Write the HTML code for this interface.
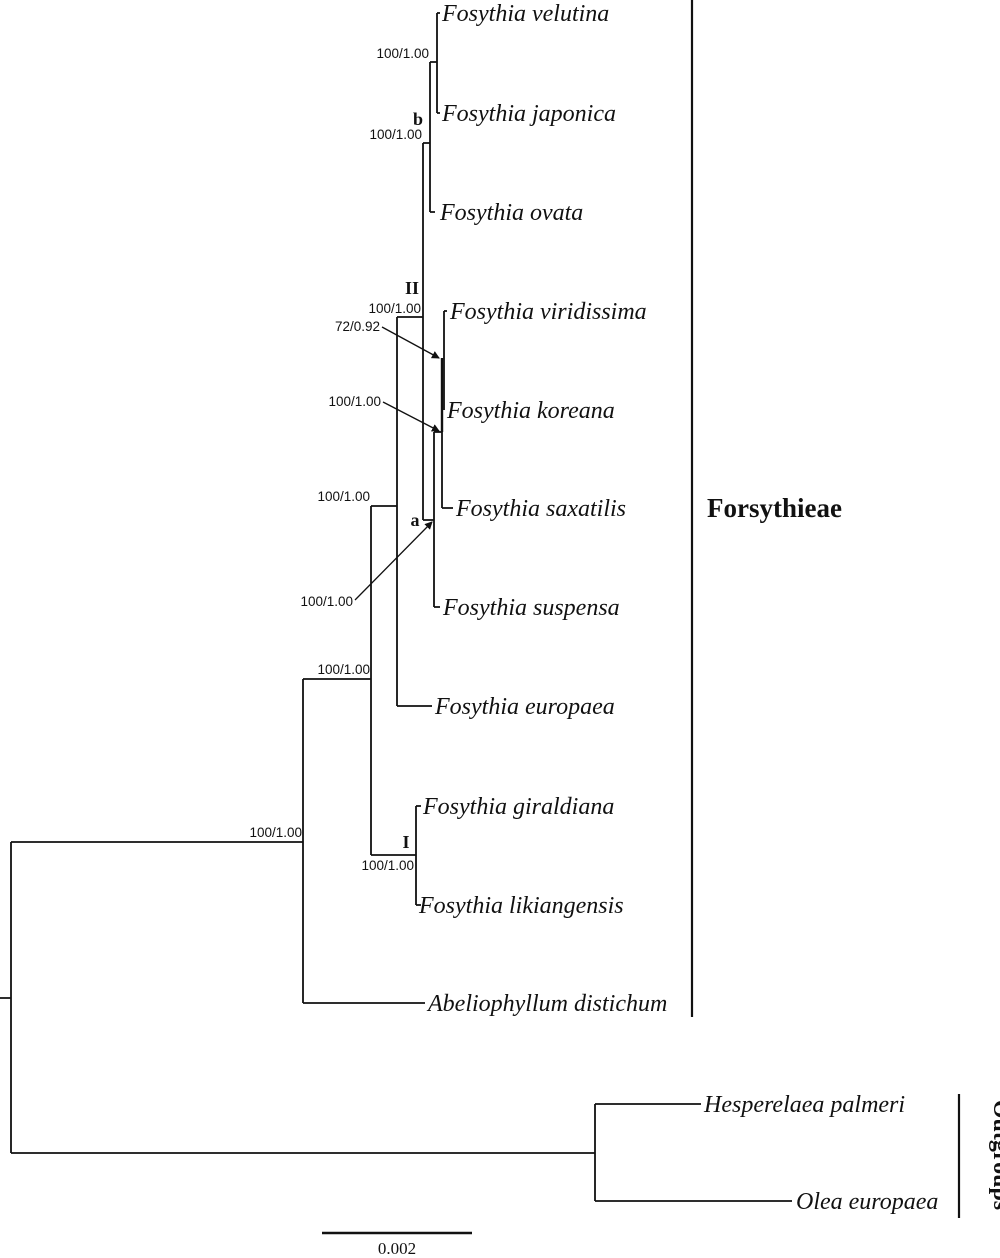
<!DOCTYPE html>
<html><head><meta charset="utf-8"><style>
html,body{margin:0;padding:0;background:#fff;}
svg{display:block;}
.t{font-family:"Liberation Serif",serif;font-style:italic;font-size:24px;fill:#111;}
.n{font-family:"Liberation Sans",sans-serif;font-size:13.5px;fill:#111;}
.b{font-family:"Liberation Serif",serif;font-weight:bold;fill:#111;}
</style></head><body>
<svg width="1000" height="1258" viewBox="0 0 1000 1258" xmlns="http://www.w3.org/2000/svg">
<defs><marker id="ah" markerWidth="8" markerHeight="8" refX="7" refY="4" orient="auto" markerUnits="userSpaceOnUse"><path d="M0,0 L8,4 L0,8 z" fill="#111"/></marker></defs>
<g stroke="#111" stroke-width="1.8" fill="none">
<!-- root -->
<path d="M0,998 H11 M11,842 V1153 M11,842 H303 M11,1153 H595"/>
<!-- outgroups -->
<path d="M595,1104 V1201 M595,1104 H701 M595,1201 H792"/>
<!-- ingroup main -->
<path d="M303,679 V1003 M303,1003 H425 M303,679 H371"/>
<path d="M371,506 V855 M371,855 H416 M416,806 V905 M416,806 H421 M416,905 H421"/>
<path d="M371,506 H397 M397,317 V706 M397,706 H432 M397,317 H423"/>
<path d="M423,143 V520 M423,143 H430 M430,62 V212 M430,212 H435 M430,62 H437 M437,13 V113 M437,13 H440 M437,113 H440"/>
<path d="M423,520 H434 M434,432 V607 M434,607 H440 M434,432 H442 M442,432 V508 M442,508 H453"/>
<path d="M442,358 V432" stroke-width="2.4"/>
<path d="M444,311 V410 M444,311 H447"/>
<!-- arrows -->
<path d="M382,327 L439,358" stroke-width="1.3" marker-end="url(#ah)"/>
<path d="M383,402 L439,431" stroke-width="1.3" marker-end="url(#ah)"/>
<path d="M355,600 L432,522" stroke-width="1.3" marker-end="url(#ah)"/>
<!-- group bars -->
<path d="M692,0 V1017" stroke-width="2.2"/>
<path d="M959,1094 V1218" stroke-width="2.2"/>
<!-- scale -->
<path d="M322,1233 H472" stroke-width="2.4"/>
</g>
<text class="t" x="442" y="21">Fosythia velutina</text>
<text class="t" x="442" y="121">Fosythia japonica</text>
<text class="t" x="440" y="220">Fosythia ovata</text>
<text class="t" x="450" y="319">Fosythia viridissima</text>
<text class="t" x="447" y="418">Fosythia koreana</text>
<text class="t" x="456" y="516">Fosythia saxatilis</text>
<text class="t" x="443" y="615">Fosythia suspensa</text>
<text class="t" x="435" y="714">Fosythia europaea</text>
<text class="t" x="423" y="814">Fosythia giraldiana</text>
<text class="t" x="419" y="913">Fosythia likiangensis</text>
<text class="t" x="428" y="1011">Abeliophyllum distichum</text>
<text class="t" x="704" y="1112">Hesperelaea palmeri</text>
<text class="t" x="796" y="1209">Olea europaea</text>
<text class="n" x="429" y="58" text-anchor="end">100/1.00</text>
<text class="n" x="422" y="139" text-anchor="end">100/1.00</text>
<text class="n" x="421" y="313" text-anchor="end">100/1.00</text>
<text class="n" x="380" y="331" text-anchor="end">72/0.92</text>
<text class="n" x="381" y="406" text-anchor="end">100/1.00</text>
<text class="n" x="370" y="501" text-anchor="end">100/1.00</text>
<text class="n" x="353" y="606" text-anchor="end">100/1.00</text>
<text class="n" x="370" y="674" text-anchor="end">100/1.00</text>
<text class="n" x="302" y="837" text-anchor="end">100/1.00</text>
<text class="n" x="414" y="870" text-anchor="end">100/1.00</text>
<text class="b" x="418" y="125" font-size="18" text-anchor="middle">b</text>
<text class="b" x="412" y="294" font-size="18" text-anchor="middle">II</text>
<text class="b" x="415" y="526" font-size="18" text-anchor="middle">a</text>
<text class="b" x="406" y="848" font-size="18" text-anchor="middle">I</text>
<text class="b" x="707" y="517" font-size="27">Forsythieae</text>
<text class="b" font-size="24" transform="translate(994,1155) rotate(90)" text-anchor="middle">Outgroups</text>
<text x="397" y="1254" font-family="Liberation Serif,serif" font-size="17" fill="#111" text-anchor="middle">0.002</text>
</svg>
</body></html>
